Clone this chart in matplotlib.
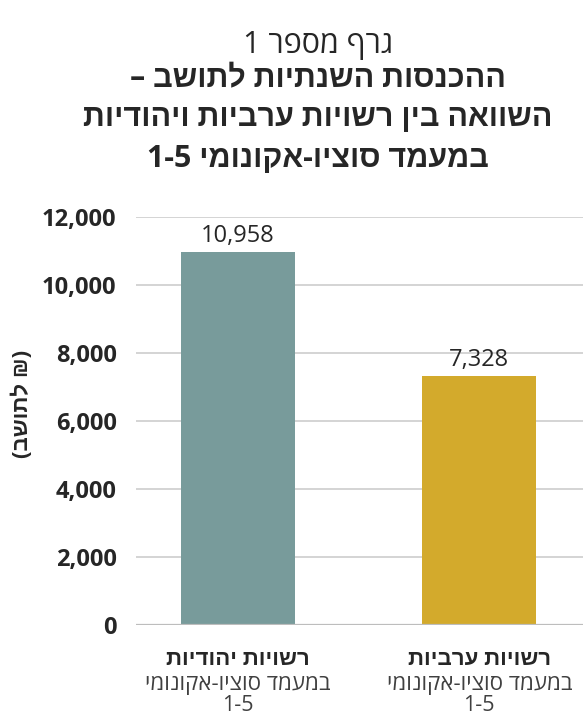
import re
import matplotlib
matplotlib.use("Agg")
import matplotlib.pyplot as plt
import matplotlib.transforms as mtransforms
from matplotlib.ticker import FuncFormatter

plt.rcParams['font.family'] = ['Open Sans', 'Liberation Sans', 'DejaVu Sans']

# ---- data -------------------------------------------------------------
categories = ["רשויות יהודיות", "רשויות ערביות"]
category_sub = ["במעמד סוציו-אקונומי", "במעמד סוציו-אקונומי"]
category_sub2 = ["1-5", "1-5"]
values = [10958, 7328]
bar_colors = ["#789b9b", "#d3aa2c"]
yticks = [0, 2000, 4000, 6000, 8000, 10000, 12000]

title_top = "גרף מספר 1"
title_lines = ["ההכנסות השנתיות לתושב –",
               "השוואה בין רשויות ערביות ויהודיות",
               "במעמד סוציו-אקונומי 1-5"]
ylabel = "(₪ לתושב)"


def visual(s):
    """Simple right-to-left reordering for Hebrew text with embedded numbers."""
    r = s[::-1]
    r = re.sub(r"[0-9][0-9,.\-]*[0-9]|[0-9]", lambda m: m.group(0)[::-1], r)
    r = r.translate(str.maketrans("()", ")("))
    return r


W, H = 584, 720
fig = plt.figure(figsize=(W / 100, H / 100), dpi=100)
ax = fig.add_axes([136 / W, 95 / H, (583 - 136) / W, 408 / H])

x = list(range(len(values)))
ax.bar(x, values, width=0.473, color=bar_colors, zorder=3)

ax.set_xlim(-0.423, 1.43)
ax.set_ylim(0, 12000)
ax.set_yticks(yticks)
ax.yaxis.set_major_formatter(FuncFormatter(lambda v, p: f"{int(v):,}"))
ax.tick_params(axis='y', length=0, pad=14, labelsize=17, labelcolor="#262626")
for lab in ax.get_yticklabels():
    lab.set_fontweight('bold')
ax.set_xticks([])
ax.grid(axis='y', color="#c9c9c9", linewidth=1.1, zorder=0)
ax.axhline(0, color="#bdbdbd", linewidth=1.6, zorder=4)
for sp in ax.spines.values():
    sp.set_visible(False)

# value labels
for xi, v in zip(x, values):
    ax.annotate(f"{v:,}", (xi, v), xytext=(0, 10), textcoords="offset pixels",
                ha='center', va='baseline', fontsize=17, color="#262626")

# category labels
tr = mtransforms.blended_transform_factory(ax.transData, fig.transFigure)
for xi, c, s1, s2 in zip(x, categories, category_sub, category_sub2):
    ax.text(xi, 1 - 665 / H, visual(c), transform=tr, ha='center', va='baseline',
            fontsize=16, fontweight='bold', color="#262626")
    ax.text(xi, 1 - 690 / H, visual(s1), transform=tr, ha='center', va='baseline',
            fontsize=16, color="#404040")
    ax.text(xi, 1 - 711 / H, visual(s2), transform=tr, ha='center', va='baseline',
            fontsize=15.5, color="#404040")

# y-axis label
fig.text(22 / W, 1 - 404 / H, visual(ylabel), rotation=90, ha='center', va='center',
         fontsize=16, fontweight='bold', color="#262626")

# title
cx = 318 / W
fig.text(cx, 1 - 53 / H, visual(title_top), ha='center', va='baseline',
         fontsize=22, color="#262626")
for yb, line in zip([87, 126, 167], title_lines):
    fig.text(cx, 1 - yb / H, visual(line), ha='center', va='baseline',
             fontsize=22, fontweight='bold', color="#262626")

fig.savefig("out.png", dpi=100)
